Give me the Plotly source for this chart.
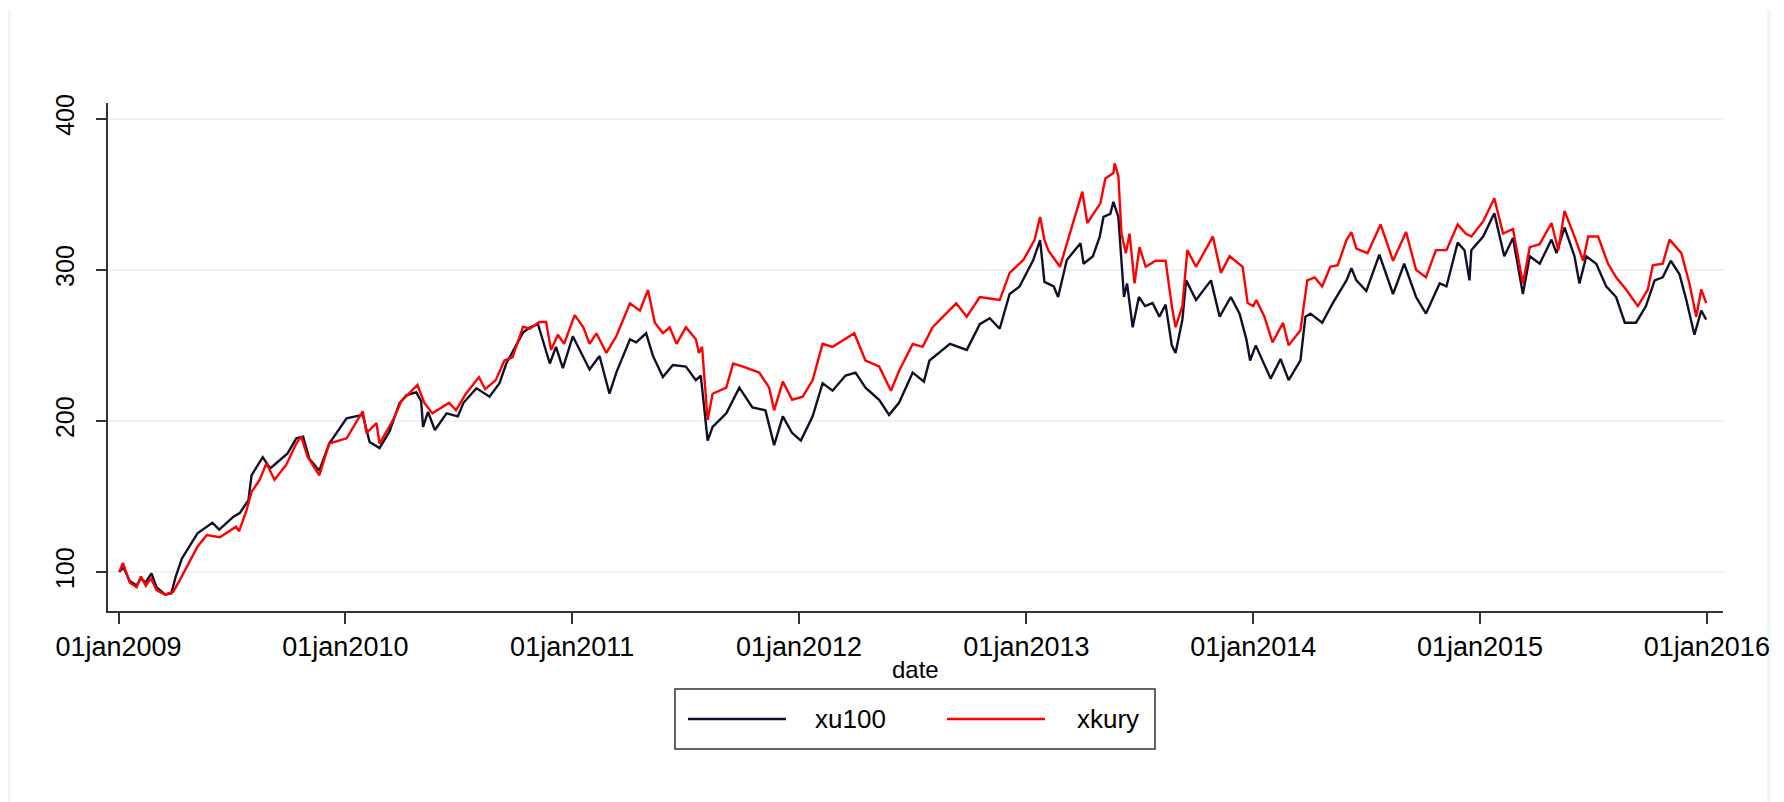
import plotly.graph_objects as go

# ---------------- data ----------------
xu100_dates = [
    "2009-01-02", "2009-01-09", "2009-01-19", "2009-01-30", "2009-02-06", "2009-02-13", "2009-02-23",
    "2009-03-03", "2009-03-17", "2009-03-27", "2009-04-03", "2009-04-13", "2009-05-08", "2009-06-01",
    "2009-06-12", "2009-07-05", "2009-07-15", "2009-07-29", "2009-08-03", "2009-08-21", "2009-09-02",
    "2009-09-12", "2009-09-30", "2009-10-14", "2009-10-25", "2009-11-04", "2009-11-20", "2009-12-06",
    "2010-01-03", "2010-01-29", "2010-02-09", "2010-02-25", "2010-03-13", "2010-03-29", "2010-04-09",
    "2010-04-25", "2010-05-03", "2010-05-06", "2010-05-14", "2010-05-25", "2010-06-13", "2010-07-01",
    "2010-07-10", "2010-07-31", "2010-08-21", "2010-09-06", "2010-09-17", "2010-10-14", "2010-10-25",
    "2010-11-07", "2010-11-26", "2010-12-06", "2010-12-17", "2011-01-02", "2011-01-29", "2011-02-14",
    "2011-03-02", "2011-03-13", "2011-04-04", "2011-04-14", "2011-04-30", "2011-05-11", "2011-05-27",
    "2011-06-12", "2011-07-03", "2011-07-19", "2011-07-27", "2011-08-07", "2011-08-15", "2011-09-06",
    "2011-09-27", "2011-10-18", "2011-11-08", "2011-11-22", "2011-12-06", "2011-12-21", "2012-01-04",
    "2012-01-23", "2012-02-08", "2012-02-24", "2012-03-16", "2012-04-01", "2012-04-17", "2012-05-09",
    "2012-05-25", "2012-06-10", "2012-07-02", "2012-07-20", "2012-07-29", "2012-08-31", "2012-09-27",
    "2012-10-18", "2012-11-03", "2012-11-19", "2012-12-05", "2012-12-21", "2013-01-12", "2013-01-23",
    "2013-01-30", "2013-02-14", "2013-02-21", "2013-03-07", "2013-03-29", "2013-04-03", "2013-04-18",
    "2013-04-29", "2013-05-05", "2013-05-16", "2013-05-21", "2013-05-29", "2013-06-03", "2013-06-07",
    "2013-06-12", "2013-06-21", "2013-07-01", "2013-07-11", "2013-07-23", "2013-08-03", "2013-08-13",
    "2013-08-23", "2013-08-29", "2013-09-09", "2013-09-15", "2013-10-01", "2013-10-25", "2013-11-08",
    "2013-11-26", "2013-12-10", "2013-12-21", "2013-12-27", "2014-01-05", "2014-01-29", "2014-02-14",
    "2014-02-27", "2014-03-18", "2014-03-26", "2014-04-03", "2014-04-22", "2014-05-09", "2014-05-31",
    "2014-06-08", "2014-06-16", "2014-07-02", "2014-07-23", "2014-08-14", "2014-09-01", "2014-09-20",
    "2014-10-06", "2014-10-28", "2014-11-08", "2014-11-26", "2014-12-07", "2014-12-15", "2014-12-18",
    "2015-01-06", "2015-01-24", "2015-02-09", "2015-02-23", "2015-03-11", "2015-03-22", "2015-04-07",
    "2015-04-26", "2015-05-04", "2015-05-17", "2015-06-02", "2015-06-10", "2015-06-21", "2015-07-07",
    "2015-07-23", "2015-08-08", "2015-08-22", "2015-09-09", "2015-09-25", "2015-10-09", "2015-10-22",
    "2015-11-04", "2015-11-18", "2015-11-29", "2015-12-12", "2015-12-23", "2015-12-31",
]
xu100_vals = [
    100, 103, 94, 91, 96, 93, 99,
    90, 85, 86, 97, 109, 125.6, 132.6,
    128, 136.6, 139, 147.6, 164, 176, 168.6,
    172, 178.5, 188.5, 189.6, 175, 167, 185,
    201.7, 204, 186, 182, 193, 211.6, 217,
    219, 213, 196, 206, 194, 205, 203,
    212, 221.6, 216, 225, 238, 258.5, 262,
    264, 238, 249, 235, 256, 234, 243,
    218, 232, 254, 252, 258, 243, 229,
    237, 236, 227, 230, 187, 196, 205,
    222, 209, 207, 184, 203, 192, 187,
    203, 225, 220, 230, 232, 222, 214,
    204, 212, 232, 226, 240, 251, 247,
    264, 268, 261, 284, 289, 306.5, 319.7,
    292, 289, 282, 306.5, 317.6, 304, 309,
    322, 335, 337, 345, 335, 306, 282,
    291, 262, 282, 276, 278, 269, 277,
    250, 245, 267, 293, 280, 293, 269,
    282, 271, 254, 240, 250, 228, 241,
    227, 240, 269, 271, 265, 278, 293,
    301, 293, 286, 310, 284, 304, 282,
    271, 291, 289, 318, 313, 293, 313,
    322, 337.4, 309, 321, 284, 309, 304,
    320, 311, 328, 309, 291, 309, 304,
    289, 282, 265, 265, 276, 293, 295,
    306, 297, 280, 257, 273, 267,
]

xkury_dates = [
    "2009-01-02", "2009-01-08", "2009-01-19", "2009-01-30", "2009-02-06", "2009-02-14", "2009-02-22",
    "2009-03-03", "2009-03-17", "2009-03-30", "2009-04-10", "2009-05-08", "2009-05-23", "2009-06-13",
    "2009-07-09", "2009-07-14", "2009-07-26", "2009-08-03", "2009-08-16", "2009-08-27", "2009-09-09",
    "2009-09-28", "2009-10-14", "2009-10-22", "2009-11-01", "2009-11-20", "2009-12-06", "2010-01-03",
    "2010-01-29", "2010-02-04", "2010-02-20", "2010-02-25", "2010-03-18", "2010-04-01", "2010-04-27",
    "2010-05-08", "2010-05-21", "2010-06-17", "2010-06-28", "2010-07-14", "2010-08-04", "2010-08-14",
    "2010-08-31", "2010-09-14", "2010-09-27", "2010-10-14", "2010-10-25", "2010-11-09", "2010-11-20",
    "2010-11-28", "2010-12-09", "2010-12-19", "2011-01-05", "2011-01-19", "2011-01-29", "2011-02-09",
    "2011-02-25", "2011-03-13", "2011-04-04", "2011-04-20", "2011-05-03", "2011-05-14", "2011-05-27",
    "2011-06-07", "2011-06-18", "2011-07-03", "2011-07-19", "2011-07-24", "2011-07-29", "2011-08-07",
    "2011-08-15", "2011-09-06", "2011-09-17", "2011-10-03", "2011-10-29", "2011-11-14", "2011-11-22",
    "2011-12-06", "2011-12-21", "2012-01-07", "2012-01-23", "2012-02-08", "2012-02-24", "2012-03-11",
    "2012-03-30", "2012-04-17", "2012-05-09", "2012-05-28", "2012-06-10", "2012-07-02", "2012-07-18",
    "2012-08-03", "2012-09-10", "2012-09-27", "2012-10-18", "2012-11-03", "2012-11-19", "2012-12-05",
    "2012-12-27", "2013-01-14", "2013-01-23", "2013-01-30", "2013-02-05", "2013-02-24", "2013-03-07",
    "2013-03-18", "2013-04-01", "2013-04-09", "2013-04-30", "2013-05-08", "2013-05-21", "2013-05-23",
    "2013-05-29", "2013-06-03", "2013-06-10", "2013-06-16", "2013-06-24", "2013-07-02", "2013-07-12",
    "2013-07-28", "2013-08-13", "2013-08-23", "2013-08-29", "2013-09-09", "2013-09-17", "2013-10-01",
    "2013-10-28", "2013-11-10", "2013-11-24", "2013-12-15", "2013-12-23", "2014-01-01", "2014-01-06",
    "2014-01-19", "2014-02-01", "2014-02-18", "2014-02-27", "2014-03-18", "2014-03-29", "2014-04-10",
    "2014-04-22", "2014-05-05", "2014-05-17", "2014-05-31", "2014-06-08", "2014-06-16", "2014-07-04",
    "2014-07-25", "2014-08-14", "2014-09-04", "2014-09-20", "2014-10-06", "2014-10-22", "2014-11-08",
    "2014-11-26", "2014-12-09", "2014-12-18", "2015-01-06", "2015-01-24", "2015-02-07", "2015-02-23",
    "2015-03-11", "2015-03-22", "2015-04-07", "2015-04-26", "2015-05-07", "2015-05-17", "2015-06-02",
    "2015-06-16", "2015-06-24", "2015-07-10", "2015-07-26", "2015-08-08", "2015-08-24", "2015-09-12",
    "2015-09-28", "2015-10-06", "2015-10-22", "2015-11-02", "2015-11-21", "2015-12-04", "2015-12-15",
    "2015-12-23", "2015-12-31",
]
xkury_vals = [
    100, 106, 93, 90, 97, 91, 96,
    88, 85, 87, 95, 116.7, 124.5, 123,
    130, 127, 141, 153, 161, 172, 161,
    171, 185, 189.6, 176.5, 164, 185, 188.5,
    206.4, 192, 198.6, 185, 200, 213, 223.8,
    212, 205, 212, 207, 218, 229, 221,
    227, 240, 242, 262.4, 261, 265.5, 265.5,
    247, 257, 251, 270, 262, 251, 258,
    245, 256, 277.8, 273, 286.6, 265, 258,
    262, 251, 262, 254, 245, 249, 200.6,
    218, 222, 238, 236, 232, 222, 207,
    226, 214, 216, 227, 251, 249, 253,
    258, 240, 236, 220, 233, 251, 249,
    262, 277.8, 269, 282, 281, 280, 298,
    306.5, 319.7, 335, 320, 313, 302, 317.6,
    333, 351.7, 331, 344, 360.5, 364, 370.5,
    362, 324, 311, 324, 291, 315, 302,
    306, 306, 276, 262, 276, 313, 302,
    322, 298, 309, 302, 278, 276, 280,
    269, 252, 265, 250, 260, 293, 295,
    289, 302, 303, 319.7, 325, 314, 311,
    330, 306, 325, 300, 295, 313, 313,
    330, 324, 322, 332, 347.3, 324, 327,
    291, 315, 317, 331, 313, 339, 322,
    306, 322, 322, 304, 295, 287, 276,
    287, 303, 304, 320, 311, 291, 269,
    287, 278,
]

tick_dates = ["2009-01-01", "2010-01-01", "2011-01-01", "2012-01-01",
              "2013-01-01", "2014-01-01", "2015-01-01", "2016-01-01"]
tick_labels = ["01jan2009", "01jan2010", "01jan2011", "01jan2012",
               "01jan2013", "01jan2014", "01jan2015", "01jan2016"]
y_ticks = [100, 200, 300, 400]
series_names = ["xu100", "xkury"]
series_colors = ["#10102a", "#ff0000"]

# ---------------- layout geometry ----------------
# page pixels; the page body has an 8px margin, so the figure canvas starts at (8, 8)
OFF = 8
W, H = 1784 - OFF, 802 - OFF
PL, PR, PT, PB = 108, 1723, 103, 611   # plot area edges (page pixels)
FONT = "Liberation Sans, Arial, sans-serif"


def px_x(p):
    return (p - PL) / (PR - PL)


def px_y(p):
    return (PB - p) / (PB - PT)


fig = go.Figure()
fig.add_trace(go.Scatter(x=xu100_dates, y=xu100_vals, mode="lines", name=series_names[0],
                         line=dict(color=series_colors[0], width=2.4)))
fig.add_trace(go.Scatter(x=xkury_dates, y=xkury_vals, mode="lines", name=series_names[1],
                         line=dict(color=series_colors[1], width=2.4)))

shapes = []
annotations = []

# faint outer frame of graph region
for xp in (9, 1769):
    shapes.append(dict(type="line", xref="paper", yref="paper",
                       x0=px_x(xp), x1=px_x(xp), y0=px_y(10), y1=px_y(802),
                       line=dict(color="#eef8f8", width=4), layer="below"))

# legend box
LX0, LX1, LY0, LY1 = 675, 1155, 689, 749
shapes.append(dict(type="rect", xref="paper", yref="paper",
                   x0=px_x(LX0), x1=px_x(LX1), y0=px_y(LY1), y1=px_y(LY0),
                   line=dict(color="#333333", width=1.5), fillcolor="white"))
LYM = 719
leg_lines = [(688, 786), (947, 1045)]
leg_text_x = [813, 1075]
for i in range(2):
    shapes.append(dict(type="line", xref="paper", yref="paper",
                       x0=px_x(leg_lines[i][0]), x1=px_x(leg_lines[i][1]),
                       y0=px_y(LYM), y1=px_y(LYM),
                       line=dict(color=series_colors[i], width=2.4)))
    annotations.append(dict(text=series_names[i], xref="paper", yref="paper",
                            x=px_x(leg_text_x[i]), y=px_y(LYM), xanchor="left", yanchor="middle",
                            showarrow=False, font=dict(family=FONT, size=26, color="black")))

# x axis title
annotations.append(dict(text="date", xref="paper", yref="paper",
                        x=0.5, y=px_y(669), xanchor="center", yanchor="middle",
                        showarrow=False, font=dict(family=FONT, size=24, color="black")))

fig.update_layout(
    width=W, height=H,
    margin=dict(l=PL - OFF, r=1784 - PR, t=PT - OFF, b=802 - PB, pad=0),
    paper_bgcolor="white", plot_bgcolor="white",
    showlegend=False,
    font=dict(family=FONT, color="black"),
    shapes=shapes, annotations=annotations,
    xaxis=dict(type="date", range=["2008-12-15", "2016-01-27"],
               tickmode="array", tickvals=tick_dates, ticktext=tick_labels,
               ticks="outside", ticklen=11, tickwidth=1.5, tickcolor="#333333",
               showline=True, linecolor="#333333", linewidth=1.5,
               showgrid=False, zeroline=False,
               tickfont=dict(family=FONT, size=27, color="black")),
    yaxis=dict(range=[74.2, 410.4], tickmode="array", tickvals=y_ticks,
               ticks="outside", ticklen=10, tickwidth=1.5, tickcolor="#333333",
               tickangle=-90, ticklabelstandoff=12,
               showline=True, linecolor="#333333", linewidth=1.5,
               showgrid=True, gridcolor="#e6f4f4", gridwidth=1.5, zeroline=False,
               tickfont=dict(family=FONT, size=25, color="black")),
)

fig.write_html("out.html")
